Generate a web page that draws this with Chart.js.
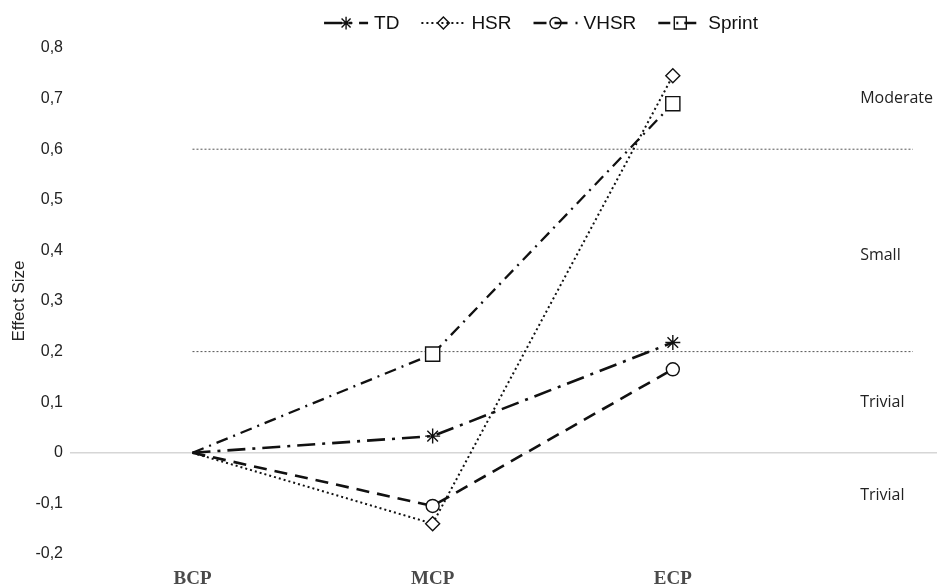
<!DOCTYPE html>
<html>
<head>
<meta charset="utf-8">
<script src="https://cdn.jsdelivr.net/npm/chart.js@4.4.1/dist/chart.umd.min.js"></script>
<style>
  body { margin: 0; background: #fff; }
  #wrap { width: 937px; height: 588px; }
</style>
</head>
<body>
<div id="wrap"><canvas id="effectChart" width="937" height="588"></canvas></div>
<script>
// categories and series (effect sizes)
const categories = ["BCP", "MCP", "ECP"];
const tdValues = [0, 0.033, 0.218];
const hsrValues = [0, -0.14, 0.745];
const vhsrValues = [0, -0.105, 0.165];
const sprintValues = [0, 0.195, 0.69];

// threshold lines and zone labels
const thresholds = [0.6, 0.2];
const zoneLabels = ["Moderate", "Small", "Trivial", "Trivial"];
const zoneLabelValues = [0.7, 0.39, 0.1, -0.085];
const yTicks = [-0.2, -0.1, 0, 0.1, 0.2, 0.3, 0.4, 0.5, 0.6, 0.7, 0.8];

const toPoints = (vals) => vals.map((v, i) => ({ x: i, y: v }));

document.addEventListener("DOMContentLoaded", () => {
  const ctx = document.getElementById("effectChart");

  const series = [
    { label: "TD", values: tdValues, dash: [18, 7, 3, 7], width: 2.6, style: "star", radius: 7.5 },
    { label: "HSR", values: hsrValues, dash: [2, 3], width: 2, style: "rectRot", radius: 7 },
    { label: "VHSR", values: vhsrValues, dash: [13, 8], width: 2.6, style: "circle", radius: 6.5 },
    { label: "Sprint", values: sprintValues, dash: [12, 6, 2, 6], width: 2.3, style: "rect", radius: 10 },
  ];

  const datasets = series.map((s) => ({
    label: s.label,
    data: toPoints(s.values),
    borderColor: "#111",
    borderWidth: s.width,
    borderDash: s.dash,
    pointStyle: s.style,
    pointRadius: s.values.map((v, i) => (i === 0 ? 0 : s.radius)),
    pointBorderWidth: 1.4,
    pointBorderColor: "#111",
    pointBackgroundColor: "#fff",
    fill: false,
    tension: 0,
    order: 1,
  }));

  thresholds.forEach((t) => {
    datasets.push({
      label: "threshold",
      data: [{ x: 0, y: t }, { x: 3, y: t }],
      borderColor: "#555",
      borderWidth: 1,
      borderDash: [2, 2],
      pointRadius: 0,
      fill: false,
      order: 10,
    });
  });

  // legend drawn by hand so each entry shows line style + marker
  const lineLegend = {
    id: "lineLegend",
    afterDraw(chart) {
      const c = chart.ctx;
      c.save();
      c.font = "19px 'Liberation Sans', Arial, sans-serif";
      c.textBaseline = "middle";
      const markerW = 44, gap = 6, itemGap = 22, y = 23;
      const widths = series.map((s) => markerW + gap + c.measureText(s.label).width);
      const total = widths.reduce((a, b) => a + b, 0) + itemGap * (series.length - 1);
      let x = 541 - total / 2;
      series.forEach((s, i) => {
        c.strokeStyle = "#111";
        c.lineWidth = s.width;
        c.setLineDash(s.dash);
        c.beginPath();
        c.moveTo(x, y);
        c.lineTo(x + markerW, y);
        c.stroke();
        c.setLineDash([]);
        c.fillStyle = "rgba(0,0,0,0)";
        c.lineWidth = 1.4;
        Chart.helpers.drawPoint(c, { pointStyle: s.style, radius: s.radius * 0.85, borderWidth: 1.4, rotation: 0 }, x + markerW / 2, y);
        c.fillStyle = "#111";
        c.fillText(s.label, x + markerW + gap, y + 1);
        x += widths[i] + itemGap;
      });
      c.restore();
    },
  };

  const zoneText = {
    id: "zoneText",
    afterDatasetsDraw(chart) {
      const c = chart.ctx;
      const xs = chart.scales.x, ys = chart.scales.y;
      c.save();
      c.font = "16px 'Open Sans', sans-serif";
      c.fillStyle = "#222";
      c.textBaseline = "middle";
      c.textAlign = "left";
      zoneLabels.forEach((txt, i) => {
        c.fillText(txt, xs.getPixelForValue(2.78), ys.getPixelForValue(zoneLabelValues[i]));
      });
      c.restore();
    },
  };

  new Chart(ctx, {
    type: "line",
    data: { datasets },
    options: {
      responsive: false,
      animation: false,
      layout: { autoPadding: false, padding: { top: 48, left: 0, right: 0, bottom: 0 } },
      plugins: {
        legend: { display: false },
        tooltip: { enabled: false },
      },
      scales: {
        x: {
          type: "linear",
          min: -0.51,
          max: 3.1,
          border: { display: false },
          grid: { display: false, drawTicks: false },
          afterBuildTicks: (scale) => {
            scale.ticks = categories.map((c, i) => ({ value: i }));
          },
          afterFit: (scale) => { scale.height = 34; },
          ticks: {
            padding: 14,
            color: "#4a4a4a",
            font: { family: "'Liberation Serif', 'Times New Roman', serif", size: 19, weight: "bold" },
            callback: (v) => categories[v] ?? "",
          },
        },
        y: {
          min: -0.2,
          max: 0.8,
          border: { display: false },
          afterBuildTicks: (scale) => {
            scale.ticks = yTicks.map((v) => ({ value: v }));
          },
          afterFit: (scale) => { scale.width = 70; },
          grid: {
            drawTicks: false,
            lineWidth: 1.5,
            color: (c) => (c.tick && Math.abs(c.tick.value) < 1e-9 ? "#d6d6d6" : "rgba(0,0,0,0)"),
          },
          ticks: {
            padding: 7,
            color: "#222",
            font: { family: "'Liberation Sans', Arial, sans-serif", size: 16 },
            callback: (v) => (Math.abs(v) < 1e-9 ? "0" : v.toFixed(1).replace(".", ",")),
          },
          title: {
            display: true,
            text: "Effect Size",
            color: "#222",
            font: { family: "'Liberation Sans', Arial, sans-serif", size: 17 },
            padding: { top: 9, bottom: 0 },
          },
        },
      },
    },
    plugins: [lineLegend, zoneText],
  });
});
</script>
</body>
</html>
